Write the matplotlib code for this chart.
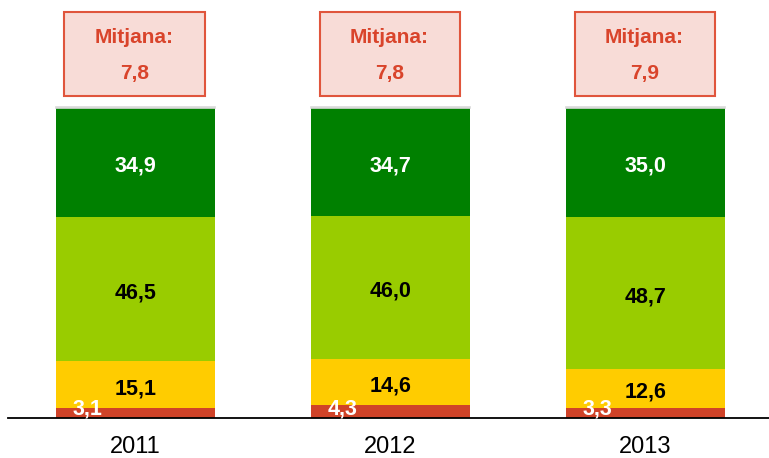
import matplotlib.pyplot as plt
from matplotlib.patches import Rectangle

plt.rcParams['font.family'] = ['Liberation Sans', 'DejaVu Sans']

years = ['2011', '2012', '2013']
red_vals = [3.1, 4.3, 3.3]
yellow_vals = [15.1, 14.6, 12.6]
lightgreen_vals = [46.5, 46.0, 48.7]
darkgreen_vals = [34.9, 34.7, 35.0]
gray_vals = [0.4, 0.4, 0.4]
mitjana = ['7,8', '7,8', '7,9']

def fmt(v):
    return f"{v:.1f}".replace('.', ',')

fig = plt.figure(figsize=(7.69, 4.58), dpi=100)
ax = fig.add_axes([8/769, (458-418)/458, 761/769, 418/458])

x = list(range(len(years)))
w = 0.624
colors = ['#D04328', '#FFCC00', '#99CC00', '#008000']
series = [red_vals, yellow_vals, lightgreen_vals, darkgreen_vals]
bottoms = [0.0] * len(years)
for vals, c in zip(series, colors):
    ax.bar(x, vals, w, bottom=bottoms, color=c, edgecolor='none', zorder=2)
    bottoms = [b + v for b, v in zip(bottoms, vals)]
ax.bar(x, gray_vals, w, bottom=bottoms, color='#D9D9D9', edgecolor='#D9D9D9', linewidth=1.2, zorder=2)

fs = 15.5
dy = -1.2
for i in x:
    r, yv, lg, dg = red_vals[i], yellow_vals[i], lightgreen_vals[i], darkgreen_vals[i]
    ax.text(i - 0.19, 3.0, fmt(r), ha='center', va='center', color='white',
            fontsize=fs, fontweight='bold', zorder=3)
    ax.text(i, r + yv / 2 + dy, fmt(yv), ha='center', va='center', color='black',
            fontsize=fs, fontweight='bold', zorder=3)
    ax.text(i, r + yv + lg / 2 + dy, fmt(lg), ha='center', va='center', color='black',
            fontsize=fs, fontweight='bold', zorder=3)
    ax.text(i, r + yv + lg + dg / 2 + dy, fmt(dg), ha='center', va='center', color='white',
            fontsize=fs, fontweight='bold', zorder=3)
    # Mitjana box
    bw = 140 / 255
    ax.add_patch(Rectangle((i - 0.004 - bw / 2, 103.5), bw, 27.0, facecolor='#F8DCD7',
                           edgecolor='#E0553C', linewidth=1.5, zorder=2, clip_on=False))
    ax.text(i - 0.004, 122.5, 'Mitjana:', ha='center', va='center', color='#D9442B',
            fontsize=15, fontweight='bold', zorder=3)
    ax.text(i - 0.004, 110.9, mitjana[i], ha='center', va='center', color='#D9442B',
            fontsize=15, fontweight='bold', zorder=3)

ax.set_xlim(-0.5, 2.484)
ax.set_ylim(0, 418 / 3.11)
for s in ['top', 'right', 'left']:
    ax.spines[s].set_visible(False)
ax.spines['bottom'].set_linewidth(1.3)
ax.spines['bottom'].set_color('black')
ax.set_yticks([])
ax.set_xticks(x)
ax.set_xticklabels(years, fontsize=17)
ax.tick_params(axis='x', length=0, pad=13)

fig.savefig('out.png', dpi=100)
